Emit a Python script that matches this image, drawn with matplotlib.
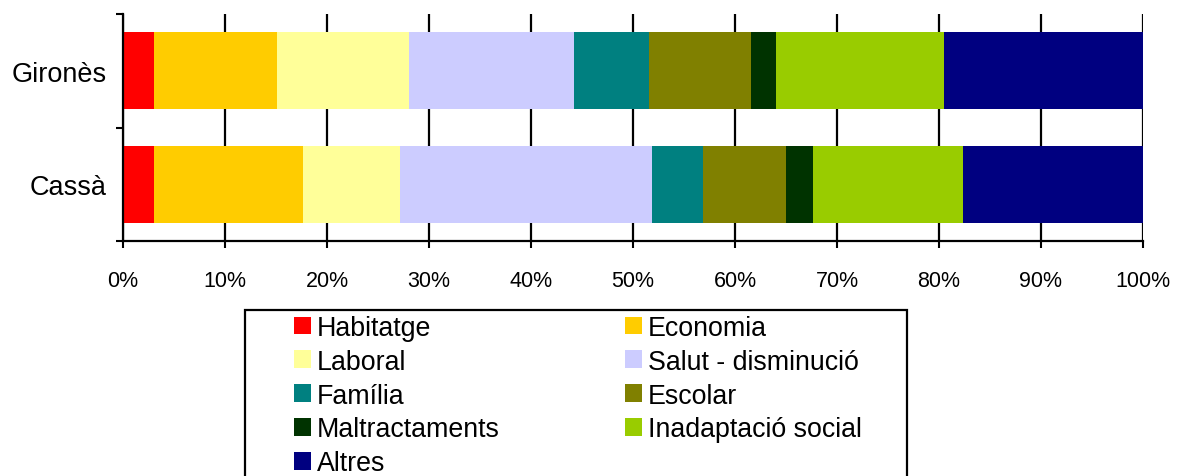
import matplotlib
matplotlib.use("Agg")
import matplotlib.pyplot as plt
from matplotlib.patches import Patch, Rectangle
import numpy as np

plt.rcParams['font.family'] = ['Liberation Sans', 'DejaVu Sans']

categories = ['Cassà', 'Gironès']
series_names = ['Habitatge', 'Economia', 'Laboral', 'Salut - disminució', 'Família',
                'Escolar', 'Maltractaments', 'Inadaptació social', 'Altres']
colors = ['#FF0000', '#FFCC00', '#FFFF99', '#CCCCFF', '#008080',
          '#808000', '#003300', '#99CC00', '#000080']
# percentages per series: [Cassà, Gironès]
habitatge = [3.0, 3.0]
economia = [14.6, 12.1]
laboral = [9.6, 12.9]
salut = [24.7, 16.2]
familia = [5.0, 7.4]
escolar = [8.1, 10.0]
maltractaments = [2.6, 2.4]
inadaptacio = [14.8, 16.5]
altres = [17.6, 19.5]
values = [habitatge, economia, laboral, salut, familia, escolar,
          maltractaments, inadaptacio, altres]
xticks = [0, 10, 20, 30, 40, 50, 60, 70, 80, 90, 100]
xticklabels = ['0%', '10%', '20%', '30%', '40%', '50%', '60%', '70%', '80%', '90%', '100%']

W, H = 1183, 477
fig = plt.figure(figsize=(W / 100, H / 100), dpi=100)
ax = fig.add_axes([123 / W, 1 - 242 / H, (1143 - 123) / W, (242 - 15) / H])

y = np.arange(len(categories))
left = np.zeros(len(categories))
handles = []
for name, vals, c in zip(series_names, values, colors):
    vals = np.array(vals, dtype=float)
    ax.barh(y, vals, left=left, height=0.68, color=c, edgecolor='none', zorder=3)
    left += vals
    handles.append(Patch(facecolor=c, edgecolor='none', label=name))

ax.set_xlim(0, 100)
ax.set_ylim(-0.5, 1.5)
ax.set_xticks(xticks)
ax.set_xticklabels(xticklabels, fontsize=15.5)
ax.set_yticks(y)
ax.set_yticklabels(categories, fontsize=19.5)
ax.set_yticks([-0.5, 0.5, 1.5], minor=True)
ax.tick_params(axis='y', which='major', length=0, pad=12)
ax.tick_params(axis='y', which='minor', length=5, width=1.5, color='black')
ax.tick_params(axis='x', which='major', length=5, width=1.5, pad=16, color='black')
ax.xaxis.grid(True, color='black', linewidth=1.6, zorder=1)
ax.set_axisbelow(True)
for s in ['top', 'right']:
    ax.spines[s].set_visible(False)
for s in ['left', 'bottom']:
    ax.spines[s].set_linewidth(1.6)
    ax.spines[s].set_zorder(4)

# legend frame
fig.patches.append(Rectangle((245 / W, 1 - 500 / H), (907 - 245) / W, (500 - 311) / H,
                             transform=fig.transFigure, fill=False, edgecolor='black',
                             linewidth=1.6))

# legend row-wise order for two columns
order = [0, 2, 4, 6, 8, 1, 3, 5, 7]
leg = fig.legend([handles[i] for i in order], [series_names[i] for i in order],
                 ncol=2, loc='upper left', bbox_to_anchor=(294 / W, 1 - 316 / H),
                 frameon=False, fontsize=19.3, handlelength=0.64, handleheight=0.64,
                 handletextpad=0.22, labelspacing=0.29, columnspacing=4.66, borderpad=0,
                 borderaxespad=0)

fig.savefig('out.png', dpi=100)
